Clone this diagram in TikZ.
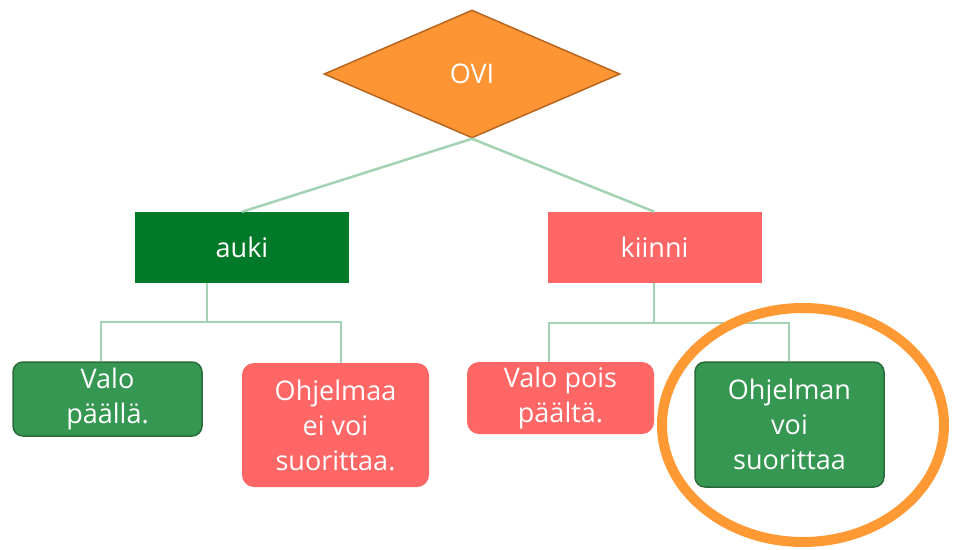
\documentclass[tikz,border=0pt]{standalone}
\usepackage{fontspec}
\setmainfont{Open Sans}
\usetikzlibrary{shapes.geometric}
\definecolor{oviorange}{HTML}{FD9535}
\definecolor{oviborder}{HTML}{B8661F}
\definecolor{darkgreen}{HTML}{007A28}
\definecolor{midgreen}{HTML}{359751}
\definecolor{greenborder}{HTML}{2A6B3A}
\definecolor{salmon}{HTML}{FF6666}
\definecolor{connline}{HTML}{A3D3B2}
\definecolor{hlorange}{HTML}{FF9933}
\begin{document}
\begin{tikzpicture}[x=1pt,y=-1pt,
  every node/.style={font=\fontsize{27}{35}\selectfont, text=white, align=center, inner sep=0pt},
  conn/.style={draw=connline, line width=2.5pt},
  catbox/.style={rectangle, minimum width=214pt, minimum height=71pt},
  leafgreen/.style={rectangle, rounded corners=10pt, fill=midgreen, draw=greenborder, line width=1.5pt},
  leafred/.style={rectangle, rounded corners=12pt, fill=salmon}
]
\useasboundingbox (0,0) rectangle (961,549);
\fill[white] (0,0) rectangle (961,549);
% nodes
\node[diamond, fill=oviorange, draw=oviborder, line width=1.5pt, aspect=2.3, minimum width=296pt, minimum height=128pt] (ovi) at (472,74) {OVI};
\node[catbox, fill=darkgreen] (auki) at (242,247.5) {auki};
\node[catbox, fill=salmon] (kiinni) at (654.5,247.5) {kiinni};
\node[leafgreen, minimum width=189pt, minimum height=74pt] (valo1) at (107.5,399) {Valo\\päällä.};
\node[leafred, minimum width=187pt, minimum height=124pt] (ohj1) at (335.5,425) {Ohjelmaa\\ei voi\\suorittaa.};
\node[leafred, minimum width=187pt, minimum height=72pt] (valo2) at (560.5,398) {Valo pois\\päältä.};
\node[leafgreen, minimum width=189pt, minimum height=125pt] (ohj2) at (789.5,424.5) {Ohjelman\\voi\\suorittaa};
% connectors
\draw[conn] (ovi.south) -- (auki.north);
\draw[conn] (ovi.south) -- (kiinni.north);
\draw[conn] (207,0 |- auki.south) -- (207,322);
\draw[conn] (101,0 |- valo1.north) |- (341,322) -- (341,0 |- ohj1.north);
\draw[conn] (654,0 |- kiinni.south) -- (654,323);
\draw[conn] (549,0 |- valo2.north) |- (789,323) -- (789,0 |- ohj2.north);
% highlight
\node[ellipse, draw=hlorange, line width=10pt, minimum width=282pt, minimum height=234pt] (hl) at (803,425) {};
\end{tikzpicture}
\end{document}
